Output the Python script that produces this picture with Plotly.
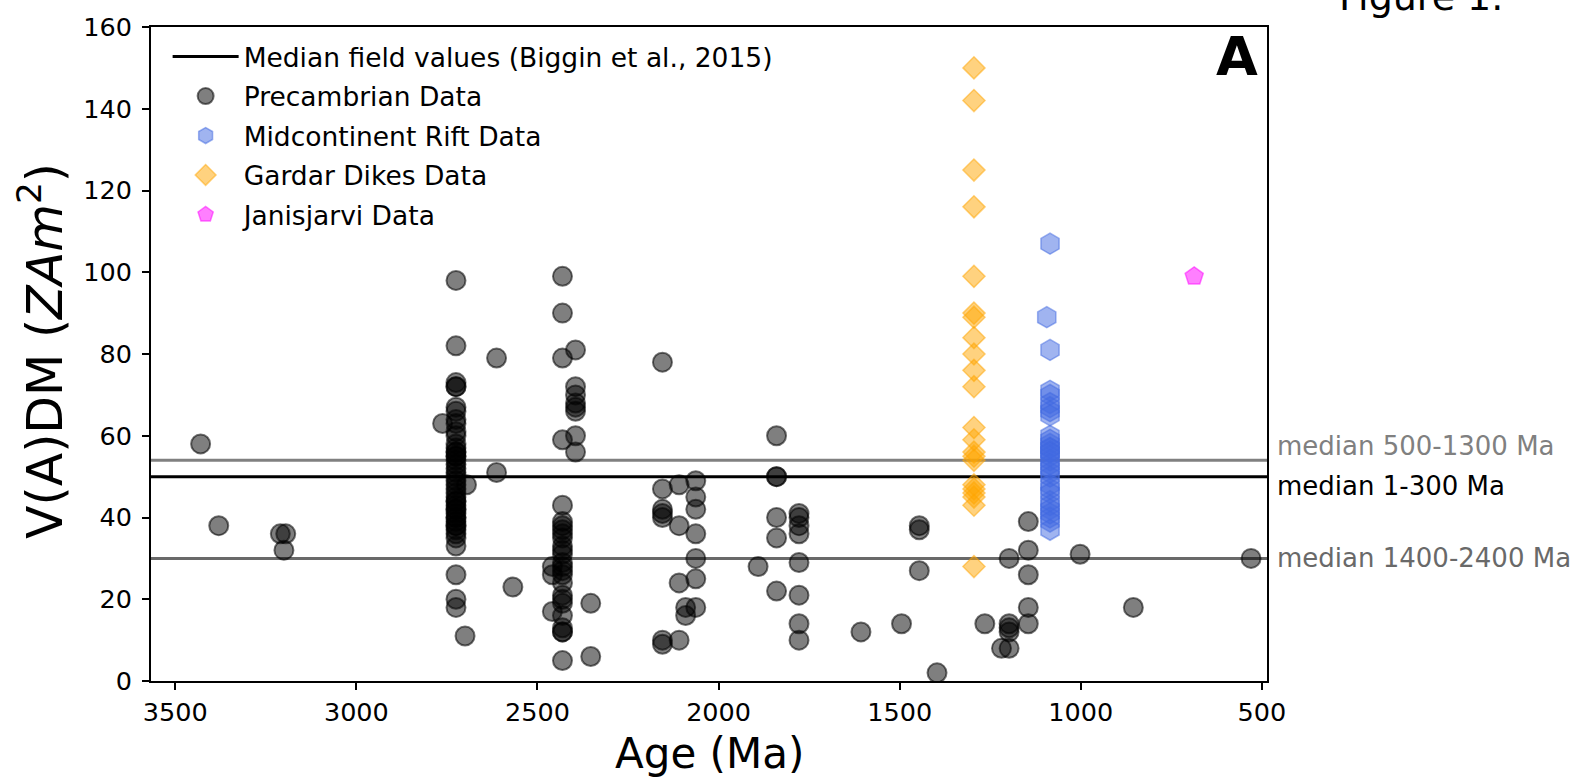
import plotly.graph_objects as go

# ---------------- data ----------------
pre_age = ([3430, 3380, 3210, 3195, 3200]
           + [2725] * 45 + [2762, 2696, 2700]
           + [2613, 2613, 2568]
           + [2431] * 26 + [2459, 2459, 2459]
           + [2395] * 8 + [2353, 2353]
           + [2155] * 7 + [2109] * 4 + [2091] * 2 + [2063] * 7
           + [1891] + [1840] * 6 + [1778] * 8
           + [1607, 1495, 1446, 1446, 1446, 1397, 1265]
           + [1198] * 5 + [1219] + [1145] * 5
           + [1002, 855, 530])
pre_val = ([58, 38, 36, 36, 32]
           + [98, 82, 73, 72, 72, 67, 66, 64, 63, 61, 60, 58, 57, 56, 56, 55, 55, 54, 53,
              52, 51, 50, 49, 48, 47, 46, 45, 44, 44, 43, 42, 42, 41, 40, 40, 39, 38, 38,
              37, 36, 35, 33, 26, 20, 18]
           + [63, 48, 11]
           + [79, 51, 23]
           + [99, 90, 79, 59, 43, 39, 38, 37, 36, 35, 33, 32, 31, 29, 28, 27, 26, 24, 21,
              20, 19, 16, 13, 12, 12, 5]
           + [28, 26, 17]
           + [81, 72, 70, 68, 67, 66, 60, 56]
           + [19, 6]
           + [78, 47, 42, 41, 40, 10, 9]
           + [48, 38, 24, 10]
           + [18, 16]
           + [49, 45, 42, 36, 30, 25, 18]
           + [28]
           + [60, 50, 50, 40, 35, 22]
           + [41, 40, 38, 36, 29, 21, 14, 10]
           + [12, 14, 38, 37, 27, 2, 14]
           + [30, 14, 13, 12, 8]
           + [8]
           + [39, 32, 26, 18, 14]
           + [31, 18, 30])

mcr_val = [107, 89, 81, 71, 70, 68, 67, 66, 65, 60, 59, 58, 57, 57, 56, 56, 55, 54, 53,
           52, 51, 50, 48, 47, 46, 44, 43, 42, 41, 40, 39, 37]
mcr_age = [1085, 1094] + [1085] * (len(mcr_val) - 2)

gardar_val = [150, 142, 125, 116, 99, 90, 89, 84, 80, 76, 72, 62, 59, 56, 55, 54, 48,
              47, 46, 45, 43, 28]
gardar_age = [1295] * len(gardar_val)

jan_age = [687]
jan_val = [99]

x_range = [3567, 486]
x_ticks = [3500, 3000, 2500, 2000, 1500, 1000, 500]
y_ticks = [0, 20, 40, 60, 80, 100, 120, 140, 160]

median_vals = [54, 50, 30]
median_labels = ["median 500-1300 Ma", "median 1-300 Ma", "median 1400-2400 Ma"]
median_colors = ["#808080", "#000000", "#696969"]
median_label_y = [57.6, 47.8, 30.2]

FONT = "DejaVu Sans"

fig = go.Figure()

# median lines
fig.add_trace(go.Scatter(x=x_range, y=[median_vals[1]] * 2, mode="lines",
                         line=dict(color="black", width=3),
                         name="Median field values (Biggin et al., 2015)",
                         legendgroup="g0", hoverinfo="skip"))
for v, c in [(median_vals[0], median_colors[0]), (median_vals[2], median_colors[2])]:
    fig.add_trace(go.Scatter(x=x_range, y=[v, v], mode="lines",
                             line=dict(color=c, width=3), showlegend=False,
                             hoverinfo="skip"))

fig.add_trace(go.Scatter(x=pre_age, y=pre_val, mode="markers", name="Precambrian Data",
                         legendgroup="g1",
                         marker=dict(symbol="circle", size=19, color="rgba(0,0,0,0.5)",
                                     line=dict(color="rgba(0,0,0,0.55)", width=2))))
fig.add_trace(go.Scatter(x=mcr_age, y=mcr_val, mode="markers", name="Midcontinent Rift Data",
                         legendgroup="g2",
                         marker=dict(symbol="hexagon", size=21, color="rgba(65,105,225,0.5)",
                                     line=dict(color="rgba(65,105,225,0.5)", width=1.5))))
fig.add_trace(go.Scatter(x=gardar_age, y=gardar_val, mode="markers", name="Gardar Dikes Data",
                         legendgroup="g3",
                         marker=dict(symbol="diamond", size=17, color="rgba(255,165,0,0.5)",
                                     line=dict(color="rgba(255,165,0,0.5)", width=1.5))))
fig.add_trace(go.Scatter(x=jan_age, y=jan_val, mode="markers", name="Janisjarvi Data",
                         legendgroup="g4",
                         marker=dict(symbol="pentagon", size=19, color="rgba(255,0,255,0.5)",
                                     line=dict(color="rgba(255,0,255,0.5)", width=1.5))))

annotations = []
for lab, col, yy in zip(median_labels, median_colors, median_label_y):
    annotations.append(dict(text=lab, xref="paper", yref="y", x=1.0072, y=yy,
                            xanchor="left", yanchor="middle", showarrow=False,
                            font=dict(family=FONT, size=26, color=col)))
annotations.append(dict(text="<b>A</b>", xref="paper", yref="paper", x=0.9935, y=0.9556,
                        xanchor="right", yanchor="middle", showarrow=False,
                        font=dict(family=FONT, size=54, color="black")))
annotations.append(dict(text="Figure 1.", xref="paper", yref="paper", x=1.0627, y=1.0087,
                        xanchor="left", yanchor="bottom", showarrow=False,
                        font=dict(family=FONT, size=38, color="black")))
annotations.append(dict(text="Age (Ma)", xref="paper", yref="paper", x=0.5, y=-0.1115,
                        xanchor="center", yanchor="middle", showarrow=False,
                        font=dict(family=FONT, size=42, color="black")))
annotations.append(dict(text="V(A)DM (<i>ZAm</i><sup>2</sup>)", xref="paper", yref="paper",
                        x=-0.0975, y=0.505, xanchor="center", yanchor="middle",
                        textangle=-90, showarrow=False,
                        font=dict(family=FONT, size=49, color="black")))

fig.update_layout(
    width=1583, height=778,
    margin=dict(l=151, r=316, t=22, b=97, pad=0),
    paper_bgcolor="white", plot_bgcolor="white",
    font=dict(family=FONT, size=26, color="black"),
    showlegend=True,
    legend=dict(x=0.0149, y=0.991, xanchor="left", yanchor="top",
                bgcolor="rgba(0,0,0,0)", borderwidth=0, itemwidth=66,
                font=dict(family=FONT, size=26.5, color="black"),
                tracegroupgap=2, traceorder="grouped"),
    annotations=annotations,
    xaxis=dict(range=x_range, tickvals=x_ticks, ticktext=[str(t) for t in x_ticks],
               showgrid=False, zeroline=False, showline=True, linecolor="black",
               linewidth=2, mirror=True, ticks="outside", ticklen=7, tickwidth=1.6,
               tickcolor="black", tickfont=dict(family=FONT, size=25.5, color="black")),
    yaxis=dict(range=[0, 160], tickvals=y_ticks, showgrid=False, zeroline=False,
               showline=True, linecolor="black", linewidth=2, mirror=True,
               ticks="outside", ticklen=7, tickwidth=1.6, tickcolor="black",
               ticklabelstandoff=5,
               tickfont=dict(family=FONT, size=25.5, color="black")),
)

fig.write_html("out.html")
